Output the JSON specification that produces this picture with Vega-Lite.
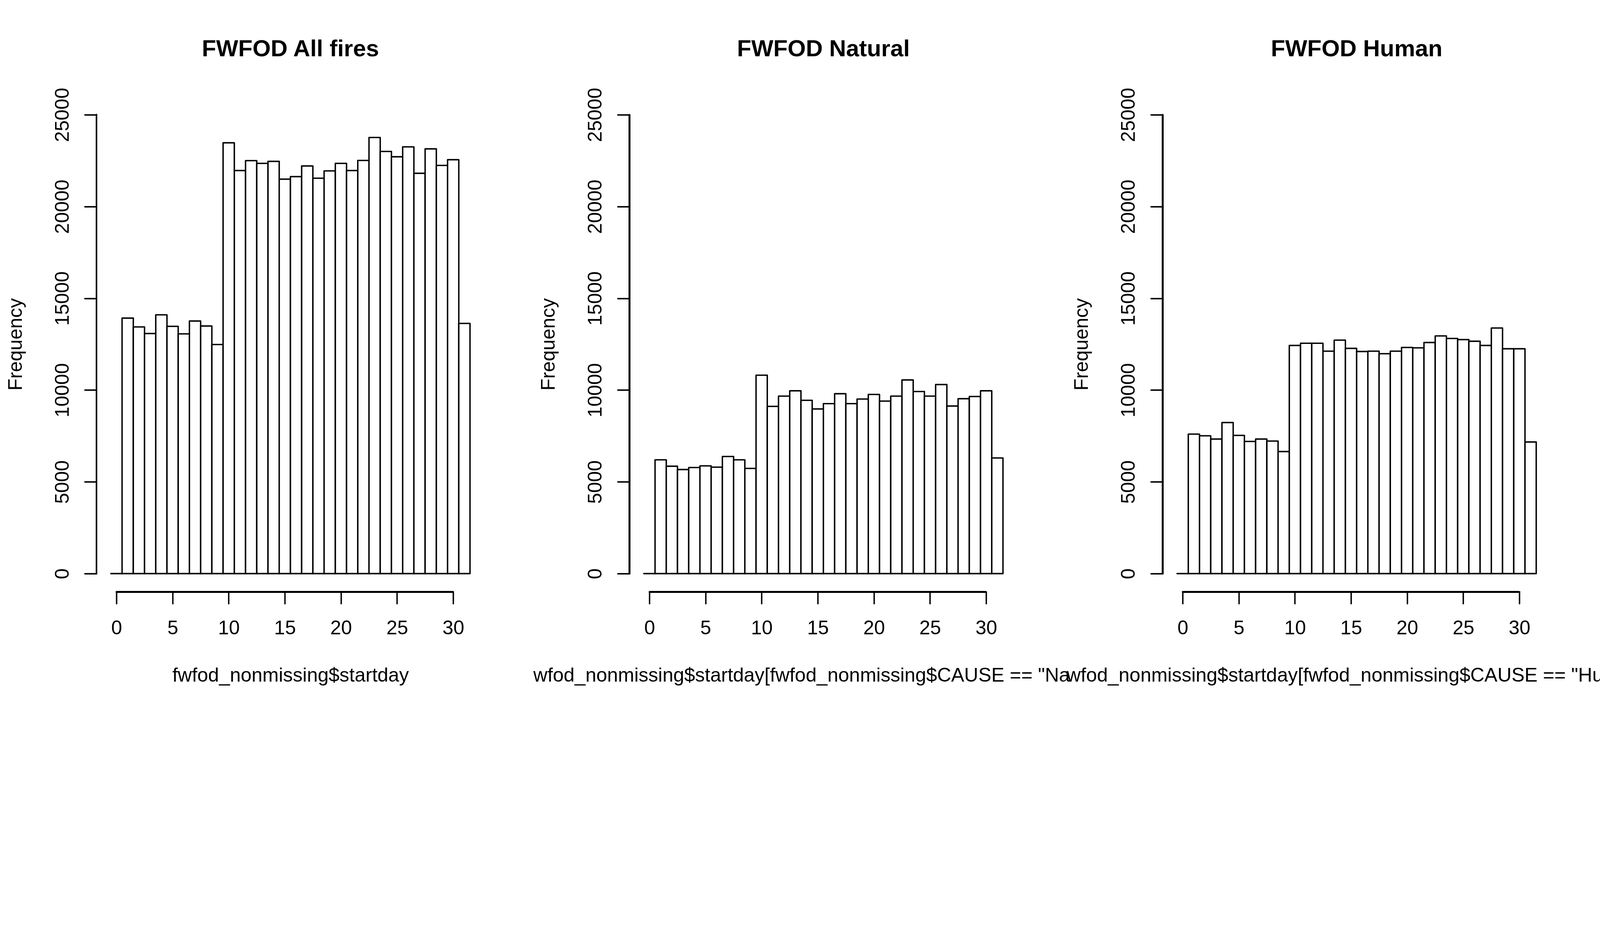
{
  "$schema": "https://vega.github.io/schema/vega-lite/v6.json",
  "background": "white",
  "padding": {"left": 15, "top": 95.6, "right": 0, "bottom": 60},
  "config": {
    "view": {"stroke": null},
    "font": "Liberation Sans",
    "title": {"font": "Liberation Sans", "fontSize": 59.9, "fontWeight": "bold", "color": "black", "anchor": "middle", "baseline": "alphabetic", "offset": 67},
    "axis": {
      "labelFont": "Liberation Sans", "labelFontSize": 50, "labelColor": "black", "labelLimit": 600,
      "titleFont": "Liberation Sans", "titleFontSize": 50, "titleColor": "black", "titleFontWeight": "normal", "titleLimit": 3000,
      "domain": false, "grid": false, "tickColor": "black", "tickWidth": 3.6, "tickCap": "round",
      "labelFlush": false, "labelOverlap": false, "titleBaseline": "alphabetic", "labelBaseline": "alphabetic"
    }
  },
  "datasets": {
    "hist": [
      {"panel": "All", "bin_start": -0.5, "bin_end": 0.5, "count": 0},
      {"panel": "All", "bin_start": 0.5, "bin_end": 1.5, "count": 13920},
      {"panel": "All", "bin_start": 1.5, "bin_end": 2.5, "count": 13440},
      {"panel": "All", "bin_start": 2.5, "bin_end": 3.5, "count": 13080},
      {"panel": "All", "bin_start": 3.5, "bin_end": 4.5, "count": 14100},
      {"panel": "All", "bin_start": 4.5, "bin_end": 5.5, "count": 13470},
      {"panel": "All", "bin_start": 5.5, "bin_end": 6.5, "count": 13060},
      {"panel": "All", "bin_start": 6.5, "bin_end": 7.5, "count": 13760},
      {"panel": "All", "bin_start": 7.5, "bin_end": 8.5, "count": 13490},
      {"panel": "All", "bin_start": 8.5, "bin_end": 9.5, "count": 12480},
      {"panel": "All", "bin_start": 9.5, "bin_end": 10.5, "count": 23470},
      {"panel": "All", "bin_start": 10.5, "bin_end": 11.5, "count": 21960},
      {"panel": "All", "bin_start": 11.5, "bin_end": 12.5, "count": 22500},
      {"panel": "All", "bin_start": 12.5, "bin_end": 13.5, "count": 22350},
      {"panel": "All", "bin_start": 13.5, "bin_end": 14.5, "count": 22460},
      {"panel": "All", "bin_start": 14.5, "bin_end": 15.5, "count": 21490},
      {"panel": "All", "bin_start": 15.5, "bin_end": 16.5, "count": 21630},
      {"panel": "All", "bin_start": 16.5, "bin_end": 17.5, "count": 22210},
      {"panel": "All", "bin_start": 17.5, "bin_end": 18.5, "count": 21540},
      {"panel": "All", "bin_start": 18.5, "bin_end": 19.5, "count": 21940},
      {"panel": "All", "bin_start": 19.5, "bin_end": 20.5, "count": 22350},
      {"panel": "All", "bin_start": 20.5, "bin_end": 21.5, "count": 21960},
      {"panel": "All", "bin_start": 21.5, "bin_end": 22.5, "count": 22510},
      {"panel": "All", "bin_start": 22.5, "bin_end": 23.5, "count": 23760},
      {"panel": "All", "bin_start": 23.5, "bin_end": 24.5, "count": 23000},
      {"panel": "All", "bin_start": 24.5, "bin_end": 25.5, "count": 22710},
      {"panel": "All", "bin_start": 25.5, "bin_end": 26.5, "count": 23250},
      {"panel": "All", "bin_start": 26.5, "bin_end": 27.5, "count": 21810},
      {"panel": "All", "bin_start": 27.5, "bin_end": 28.5, "count": 23140},
      {"panel": "All", "bin_start": 28.5, "bin_end": 29.5, "count": 22240},
      {"panel": "All", "bin_start": 29.5, "bin_end": 30.5, "count": 22550},
      {"panel": "All", "bin_start": 30.5, "bin_end": 31.5, "count": 13630},
      {"panel": "Natural", "bin_start": -0.5, "bin_end": 0.5, "count": 0},
      {"panel": "Natural", "bin_start": 0.5, "bin_end": 1.5, "count": 6200},
      {"panel": "Natural", "bin_start": 1.5, "bin_end": 2.5, "count": 5850},
      {"panel": "Natural", "bin_start": 2.5, "bin_end": 3.5, "count": 5670},
      {"panel": "Natural", "bin_start": 3.5, "bin_end": 4.5, "count": 5780},
      {"panel": "Natural", "bin_start": 4.5, "bin_end": 5.5, "count": 5870},
      {"panel": "Natural", "bin_start": 5.5, "bin_end": 6.5, "count": 5800},
      {"panel": "Natural", "bin_start": 6.5, "bin_end": 7.5, "count": 6380},
      {"panel": "Natural", "bin_start": 7.5, "bin_end": 8.5, "count": 6200},
      {"panel": "Natural", "bin_start": 8.5, "bin_end": 9.5, "count": 5730},
      {"panel": "Natural", "bin_start": 9.5, "bin_end": 10.5, "count": 10810},
      {"panel": "Natural", "bin_start": 10.5, "bin_end": 11.5, "count": 9110},
      {"panel": "Natural", "bin_start": 11.5, "bin_end": 12.5, "count": 9670},
      {"panel": "Natural", "bin_start": 12.5, "bin_end": 13.5, "count": 9960},
      {"panel": "Natural", "bin_start": 13.5, "bin_end": 14.5, "count": 9440},
      {"panel": "Natural", "bin_start": 14.5, "bin_end": 15.5, "count": 8970},
      {"panel": "Natural", "bin_start": 15.5, "bin_end": 16.5, "count": 9260},
      {"panel": "Natural", "bin_start": 16.5, "bin_end": 17.5, "count": 9800},
      {"panel": "Natural", "bin_start": 17.5, "bin_end": 18.5, "count": 9260},
      {"panel": "Natural", "bin_start": 18.5, "bin_end": 19.5, "count": 9510},
      {"panel": "Natural", "bin_start": 19.5, "bin_end": 20.5, "count": 9760},
      {"panel": "Natural", "bin_start": 20.5, "bin_end": 21.5, "count": 9400},
      {"panel": "Natural", "bin_start": 21.5, "bin_end": 22.5, "count": 9670},
      {"panel": "Natural", "bin_start": 22.5, "bin_end": 23.5, "count": 10550},
      {"panel": "Natural", "bin_start": 23.5, "bin_end": 24.5, "count": 9920},
      {"panel": "Natural", "bin_start": 24.5, "bin_end": 25.5, "count": 9670},
      {"panel": "Natural", "bin_start": 25.5, "bin_end": 26.5, "count": 10300},
      {"panel": "Natural", "bin_start": 26.5, "bin_end": 27.5, "count": 9130},
      {"panel": "Natural", "bin_start": 27.5, "bin_end": 28.5, "count": 9530},
      {"panel": "Natural", "bin_start": 28.5, "bin_end": 29.5, "count": 9650},
      {"panel": "Natural", "bin_start": 29.5, "bin_end": 30.5, "count": 9960},
      {"panel": "Natural", "bin_start": 30.5, "bin_end": 31.5, "count": 6300},
      {"panel": "Human", "bin_start": -0.5, "bin_end": 0.5, "count": 0},
      {"panel": "Human", "bin_start": 0.5, "bin_end": 1.5, "count": 7600},
      {"panel": "Human", "bin_start": 1.5, "bin_end": 2.5, "count": 7510},
      {"panel": "Human", "bin_start": 2.5, "bin_end": 3.5, "count": 7330},
      {"panel": "Human", "bin_start": 3.5, "bin_end": 4.5, "count": 8230},
      {"panel": "Human", "bin_start": 4.5, "bin_end": 5.5, "count": 7530},
      {"panel": "Human", "bin_start": 5.5, "bin_end": 6.5, "count": 7200},
      {"panel": "Human", "bin_start": 6.5, "bin_end": 7.5, "count": 7330},
      {"panel": "Human", "bin_start": 7.5, "bin_end": 8.5, "count": 7220},
      {"panel": "Human", "bin_start": 8.5, "bin_end": 9.5, "count": 6650},
      {"panel": "Human", "bin_start": 9.5, "bin_end": 10.5, "count": 12430},
      {"panel": "Human", "bin_start": 10.5, "bin_end": 11.5, "count": 12550},
      {"panel": "Human", "bin_start": 11.5, "bin_end": 12.5, "count": 12550},
      {"panel": "Human", "bin_start": 12.5, "bin_end": 13.5, "count": 12120},
      {"panel": "Human", "bin_start": 13.5, "bin_end": 14.5, "count": 12720},
      {"panel": "Human", "bin_start": 14.5, "bin_end": 15.5, "count": 12270},
      {"panel": "Human", "bin_start": 15.5, "bin_end": 16.5, "count": 12100},
      {"panel": "Human", "bin_start": 16.5, "bin_end": 17.5, "count": 12120},
      {"panel": "Human", "bin_start": 17.5, "bin_end": 18.5, "count": 11980},
      {"panel": "Human", "bin_start": 18.5, "bin_end": 19.5, "count": 12120},
      {"panel": "Human", "bin_start": 19.5, "bin_end": 20.5, "count": 12320},
      {"panel": "Human", "bin_start": 20.5, "bin_end": 21.5, "count": 12300},
      {"panel": "Human", "bin_start": 21.5, "bin_end": 22.5, "count": 12590},
      {"panel": "Human", "bin_start": 22.5, "bin_end": 23.5, "count": 12950},
      {"panel": "Human", "bin_start": 23.5, "bin_end": 24.5, "count": 12810},
      {"panel": "Human", "bin_start": 24.5, "bin_end": 25.5, "count": 12750},
      {"panel": "Human", "bin_start": 25.5, "bin_end": 26.5, "count": 12660},
      {"panel": "Human", "bin_start": 26.5, "bin_end": 27.5, "count": 12430},
      {"panel": "Human", "bin_start": 27.5, "bin_end": 28.5, "count": 13380},
      {"panel": "Human", "bin_start": 28.5, "bin_end": 29.5, "count": 12250},
      {"panel": "Human", "bin_start": 29.5, "bin_end": 30.5, "count": 12250},
      {"panel": "Human", "bin_start": 30.5, "bin_end": 31.5, "count": 7170}
    ]
  },
  "align": "none",
  "spacing": 124.4,
  "hconcat": [
    {
      "title": "FWFOD All fires",
      "width": 993, "height": 1268,
      "data": {"name": "hist"},
      "transform": [{"filter": "datum.panel === 'All'"}],
      "layer": [
        {
          "mark": {"type": "rect", "fill": "white", "stroke": "black", "strokeWidth": 3.6, "strokeJoin": "round"},
          "encoding": {
            "x": {"field": "bin_start", "type": "quantitative", "scale": {"domain": [-1.78, 32.78], "nice": false, "zero": false},
                  "axis": {"values": [0, 5, 10, 15, 20, 25, 30], "format": "d", "tickSize": 29.6, "labelPadding": 78, "labelAlign": "center", "labelBaseline": "alphabetic",
                           "title": "fwfod_nonmissing$startday", "titleX": 496.5, "titleY": 229, "titleAlign": "center"}},
            "x2": {"field": "bin_end"},
            "y": {"field": "count", "type": "quantitative", "scale": {"domain": [-1000, 26000], "nice": false, "zero": false},
                  "axis": {"values": [0, 5000, 10000, 15000, 20000, 25000], "format": "d", "tickSize": 30.3, "labelPadding": 41.7, "labelAngle": 270, "labelAlign": "center", "labelBaseline": "alphabetic",
                           "title": "Frequency", "titleAngle": 270, "titleX": -192, "titleAlign": "center"}},
            "y2": {"datum": 0}
          }
        },
        {
          "mark": {"type": "rule", "stroke": "black", "strokeWidth": 3.6, "strokeCap": "round"},
          "encoding": {"x": {"datum": -1.78, "type": "quantitative"}, "y": {"datum": 0, "type": "quantitative"}, "y2": {"datum": 25000}}
        },
        {
          "mark": {"type": "rule", "stroke": "black", "strokeWidth": 3.6, "strokeCap": "round"},
          "encoding": {"x": {"datum": 0, "type": "quantitative"}, "x2": {"datum": 30}, "y": {"datum": -1000, "type": "quantitative"}}
        }
      ]
    },
    {
      "align": "none",
      "spacing": -9.9,
      "hconcat": [
        {
          "title": "FWFOD Natural",
          "width": 993, "height": 1268,
          "data": {"name": "hist"},
          "transform": [{"filter": "datum.panel === 'Natural'"}],
          "layer": [
            {
              "mark": {"type": "rect", "fill": "white", "stroke": "black", "strokeWidth": 3.6, "strokeJoin": "round"},
              "encoding": {
                "x": {"field": "bin_start", "type": "quantitative", "scale": {"domain": [-1.78, 32.78], "nice": false, "zero": false},
                      "axis": {"values": [0, 5, 10, 15, 20, 25, 30], "format": "d", "tickSize": 29.6, "labelPadding": 78, "labelAlign": "center", "labelBaseline": "alphabetic",
                               "title": "wfod_nonmissing$startday[fwfod_nonmissing$CAUSE == \"Na", "titleX": -246.6, "titleY": 229, "titleAlign": "left"}},
                "x2": {"field": "bin_end"},
                "y": {"field": "count", "type": "quantitative", "scale": {"domain": [-1000, 26000], "nice": false, "zero": false},
                      "axis": {"values": [0, 5000, 10000, 15000, 20000, 25000], "format": "d", "tickSize": 30.3, "labelPadding": 41.7, "labelAngle": 270, "labelAlign": "center", "labelBaseline": "alphabetic",
                               "title": "Frequency", "titleAngle": 270, "titleX": -192, "titleAlign": "center"}},
                "y2": {"datum": 0}
              }
            },
            {
              "mark": {"type": "rule", "stroke": "black", "strokeWidth": 3.6, "strokeCap": "round"},
              "encoding": {"x": {"datum": -1.78, "type": "quantitative"}, "y": {"datum": 0, "type": "quantitative"}, "y2": {"datum": 25000}}
            },
            {
              "mark": {"type": "rule", "stroke": "black", "strokeWidth": 3.6, "strokeCap": "round"},
              "encoding": {"x": {"datum": 0, "type": "quantitative"}, "x2": {"datum": 30}, "y": {"datum": -1000, "type": "quantitative"}}
            }
          ]
        },
        {
          "title": "FWFOD Human",
          "width": 993, "height": 1268,
          "data": {"name": "hist"},
          "transform": [{"filter": "datum.panel === 'Human'"}],
          "layer": [
            {
              "mark": {"type": "rect", "fill": "white", "stroke": "black", "strokeWidth": 3.6, "strokeJoin": "round"},
              "encoding": {
                "x": {"field": "bin_start", "type": "quantitative", "scale": {"domain": [-1.78, 32.78], "nice": false, "zero": false},
                      "axis": {"values": [0, 5, 10, 15, 20, 25, 30], "format": "d", "tickSize": 29.6, "labelPadding": 78, "labelAlign": "center", "labelBaseline": "alphabetic",
                               "title": "wfod_nonmissing$startday[fwfod_nonmissing$CAUSE == \"Hu", "titleX": -246.6, "titleY": 229, "titleAlign": "left"}},
                "x2": {"field": "bin_end"},
                "y": {"field": "count", "type": "quantitative", "scale": {"domain": [-1000, 26000], "nice": false, "zero": false},
                      "axis": {"values": [0, 5000, 10000, 15000, 20000, 25000], "format": "d", "tickSize": 30.3, "labelPadding": 41.7, "labelAngle": 270, "labelAlign": "center", "labelBaseline": "alphabetic",
                               "title": "Frequency", "titleAngle": 270, "titleX": -192, "titleAlign": "center"}},
                "y2": {"datum": 0}
              }
            },
            {
              "mark": {"type": "rule", "stroke": "black", "strokeWidth": 3.6, "strokeCap": "round"},
              "encoding": {"x": {"datum": -1.78, "type": "quantitative"}, "y": {"datum": 0, "type": "quantitative"}, "y2": {"datum": 25000}}
            },
            {
              "mark": {"type": "rule", "stroke": "black", "strokeWidth": 3.6, "strokeCap": "round"},
              "encoding": {"x": {"datum": 0, "type": "quantitative"}, "x2": {"datum": 30}, "y": {"datum": -1000, "type": "quantitative"}}
            }
          ]
        }
      ]
    }
  ]
}
